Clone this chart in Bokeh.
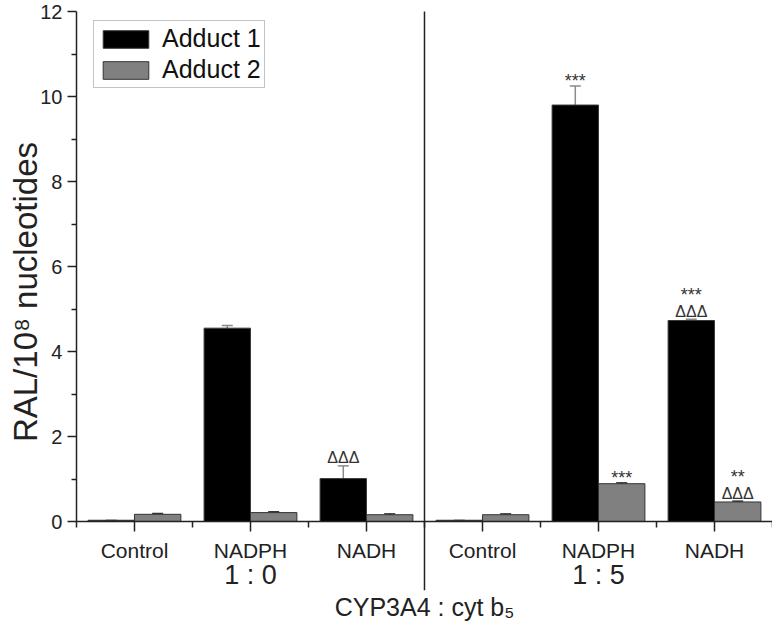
import math
from bokeh.plotting import figure
from bokeh.models import (ColumnDataSource, Range1d, FixedTicker, LinearAxis,
                          Whisker, TeeHead, Legend, LegendItem)
from bokeh.core.properties import value
from bokeh.embed import file_html
from bokeh.resources import INLINE

# ---------------- data ----------------
conditions = ["Control", "NADPH", "NADH", "Control", "NADPH", "NADH"]
ratio_labels = ["1 : 0", "1 : 5"]
adduct1 = [0.03, 4.55, 1.01, 0.03, 9.80, 4.73]
adduct1_err = [0.0, 0.06, 0.30, 0.0, 0.45, 0.03]
adduct2 = [0.17, 0.21, 0.16, 0.16, 0.89, 0.46]
adduct2_err = [0.02, 0.02, 0.02, 0.02, 0.02, 0.02]
y_ticks = [0, 2, 4, 6, 8, 10, 12]
y_minor = [1, 3, 5, 7, 9, 11]
y_title = "RAL/10⁸ nucleotides"
x_title = "CYP3A4 : cyt b₅"

# significance marks: condition index, series (1/2), symbol, stack level
sig_index = [2, 4, 4, 5, 5, 5, 5]
sig_series = [1, 1, 2, 1, 1, 2, 2]
sig_text = ["ΔΔΔ", "***", "***", "ΔΔΔ", "***", "ΔΔΔ", "**"]
sig_level = [0, 0, 0, 0, 1, 0, 1]

FONT = "Liberation Sans"
n = len(conditions)
idx = list(range(n))
half = 0.2

W, H = 772, 622
x_left = -1.155          # frame reaches the canvas edge; axis sits at -0.5
y_max = 12               # top of the value axis
y_top = 12.26            # frame reaches the canvas top
y_bottom = -2.376
div_bottom = -1.62

p = figure(width=W, height=H, output_backend="svg", toolbar_location=None,
           x_range=Range1d(x_left, n - 0.5), y_range=Range1d(y_bottom, y_top),
           x_axis_location=None, y_axis_location=None,
           min_border_left=0, min_border_right=0, min_border_top=0,
           min_border_bottom=0)
p.outline_line_color = None
p.grid.visible = False
p.background_fill_color = "white"

src1 = ColumnDataSource(dict(x=[i - half for i in idx], top=adduct1,
                             upper=[v + e for v, e in zip(adduct1, adduct1_err)]))
src2 = ColumnDataSource(dict(x=[i + half for i in idx], top=adduct2,
                             upper=[v + e for v, e in zip(adduct2, adduct2_err)]))

r1 = p.vbar(x="x", top="top", bottom=0, width=2 * half, source=src1,
            fill_color="black", line_color="#3a3a3a", line_width=1)
r2 = p.vbar(x="x", top="top", bottom=0, width=2 * half, source=src2,
            fill_color="#808080", line_color="#333333", line_width=1)

w1 = Whisker(source=src1, base="x", lower="top", upper="upper", dimension="height",
             line_color="#8a8a8a", line_width=1.5, lower_head=None,
             upper_head=TeeHead(size=11, line_color="#8a8a8a", line_width=1.5))
w2 = Whisker(source=src2, base="x", lower="top", upper="upper", dimension="height",
             line_color="#333333", line_width=1.5, lower_head=None,
             upper_head=TeeHead(size=11, line_color="#333333", line_width=1.5))
p.add_layout(w1)
p.add_layout(w2)

# significance annotations
sx, sy, soff, ssize = [], [], [], []
for i, s, t, lv in zip(sig_index, sig_series, sig_text, sig_level):
    if s == 1:
        sx.append(i - half)
        sy.append(adduct1[i] + adduct1_err[i])
    else:
        sx.append(i + half)
        sy.append(adduct2[i] + adduct2_err[i])
    is_star = t.startswith("*")
    if lv == 0:
        soff.append(-5 if is_star else -8)
    else:
        soff.append(-24)
    ssize.append("18px" if is_star else "16px")
sig_src = ColumnDataSource(dict(x=sx, y=sy, text=sig_text, off=soff, size=ssize))
p.text(x="x", y="y", text="text", y_offset="off", text_font_size="size",
       source=sig_src, text_align="center", text_baseline="alphabetic",
       text_font=value(FONT), text_color="#333333")

# divider between the two enzyme ratios
split = n / 2 - 0.5
p.segment(x0=[split], y0=[div_bottom], x1=[split], y1=[y_max],
          line_color="#222222", line_width=1.5)

# y axis (drawn at the left end of the categories)
yax = LinearAxis(ticker=FixedTicker(ticks=y_ticks, minor_ticks=y_minor),
                 bounds=(0, y_max), fixed_location=-0.5)
yax.axis_line_color = "#222222"
yax.axis_line_width = 1.5
yax.major_tick_line_color = "#222222"
yax.major_tick_line_width = 1.5
yax.minor_tick_line_color = "#222222"
yax.minor_tick_line_width = 1.5
yax.major_tick_in = 0
yax.major_tick_out = 9
yax.minor_tick_in = 0
yax.minor_tick_out = 5
yax.major_label_text_font = FONT
yax.major_label_text_font_size = "20px"
yax.major_label_text_color = "#222222"
yax.major_label_standoff = 5
p.add_layout(yax, "left")

# y-axis title
p.text(x=[-0.5], y=[5.4], text=[y_title], x_offset=-51, angle=math.pi / 2,
       text_align="center", text_baseline="middle", text_font=value(FONT),
       text_font_size="33px", text_color="#222222")

# x axis (conditions)
xax = LinearAxis(ticker=FixedTicker(ticks=idx, minor_ticks=[i - 0.5 for i in range(n + 1)]),
                 fixed_location=0, bounds=(-0.5, n - 0.5))
xax.major_label_overrides = {i: c for i, c in enumerate(conditions)}
xax.axis_line_color = "#222222"
xax.axis_line_width = 1.5
xax.major_tick_line_color = "#222222"
xax.major_tick_line_width = 1.5
xax.minor_tick_line_color = "#222222"
xax.minor_tick_line_width = 1.5
xax.major_tick_in = 0
xax.major_tick_out = 10
xax.minor_tick_in = 0
xax.minor_tick_out = 6
xax.major_label_text_font = FONT
xax.major_label_text_font_size = "21px"
xax.major_label_text_color = "#222222"
xax.major_label_standoff = 7
p.add_layout(xax, "below")

# x axis (ratio groups)
group_centers = [1, 4]
gax = LinearAxis(ticker=FixedTicker(ticks=group_centers, minor_ticks=[]),
                 fixed_location=0, bounds=(-0.5, n - 0.5))
gax.major_label_overrides = {c: r for c, r in zip(group_centers, ratio_labels)}
gax.axis_line_color = None
gax.major_tick_line_color = None
gax.minor_tick_line_color = None
gax.major_tick_in = 0
gax.major_tick_out = 0
gax.major_label_text_font = FONT
gax.major_label_text_font_size = "27px"
gax.major_label_text_color = "#222222"
gax.major_label_standoff = 38
p.add_layout(gax, "below")

# x-axis title, centred under the divider
p.text(x=[split], y=[0], text=[x_title], y_offset=71, text_align="center",
       text_baseline="top", text_font=value(FONT), text_font_size="25px",
       text_color="#222222")

legend = Legend(items=[LegendItem(label="Adduct 1", renderers=[r1]),
                       LegendItem(label="Adduct 2", renderers=[r2])],
                location=(93, 534))
legend.glyph_width = 57
legend.glyph_height = 22
legend.spacing = 2
legend.padding = 3
legend.margin = 0
legend.label_standoff = 8
legend.label_text_font = FONT
legend.label_text_font_size = "25px"
legend.label_text_color = "#111111"
legend.border_line_color = "#888888"
legend.border_line_width = 1.5
legend.background_fill_alpha = 1
p.add_layout(legend, "center")

open("out.html", "w").write(file_html(p, INLINE))
